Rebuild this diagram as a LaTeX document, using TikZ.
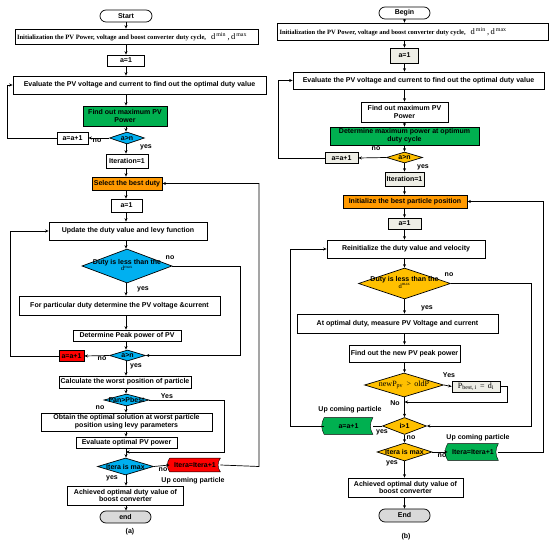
\documentclass[tikz,border=0pt]{standalone}
\usepackage{fontspec}
\setmainfont{Liberation Serif}
\setsansfont{Liberation Sans}
\usetikzlibrary{shapes.geometric,arrows.meta,backgrounds}
\definecolor{cblue}{RGB}{0,176,240}
\definecolor{cgreen}{RGB}{0,176,80}
\definecolor{corange}{RGB}{255,153,0}
\definecolor{cred}{RGB}{255,0,0}
\definecolor{cgold}{RGB}{255,192,0}
\definecolor{clight}{RGB}{238,238,230}
\definecolor{cgray}{RGB}{217,217,217}
\newcommand{\fnt}{\sffamily\bfseries\fontsize{7}{7.8}\selectfont}
\newcommand{\inittxt}[2]{\makebox[#2][l]{\rmfamily\bfseries\fontsize{#1}{7}\selectfont Initialization the PV Power, voltage and boost converter duty cycle,\hspace{5pt}{\mdseries\fontsize{8.5}{9}\selectfont d\textsuperscript{\,min}\,,\,d\textsuperscript{\,max}}}}
\begin{document}
\begin{tikzpicture}[x=1pt,y=-1pt,line width=0.7pt,
  base/.style={font=\fnt,inner sep=0pt,align=center},
  box/.style={base,draw,rectangle,fill=white},
  lbox/.style={box,fill=clight},
  term/.style={box,rounded corners=6pt},
  dia/.style={draw,diamond,inner sep=0pt},
  arr/.style={-{Stealth[length=3.5pt,width=3pt]}},
  lbl/.style={base}]
\useasboundingbox (0,0) rectangle (550,545);
\coordinate (colA) at (126,0);
\coordinate (colB) at (404.5,0);
% ================= (a) =================
\node[term,minimum width=52pt,minimum height=12pt] (start) at (126,16) {Start};
\node[box,minimum width=243pt,minimum height=15pt] (init) at (136.5,36.5) {\inittxt{6.6}{239pt}};
\node[box,minimum width=37pt,minimum height=11pt] (a1) at (126,60.5) {a=1};
\node[box,minimum width=253pt,minimum height=18pt] (eval) at (139.5,85) {Evaluate the PV voltage and current to find out the optimal duty value};
\node[box,fill=cgreen,minimum width=84pt,minimum height=20pt] (green) at (125,116) {Find out maximum PV\\Power};
\node[dia,fill=cblue,minimum width=35pt,minimum height=12pt,label={[base]center:a>n}] (an1) at (127,138) {};
\node[box,minimum width=31pt,minimum height=12pt] (aa1) at (72.5,138) {a=a+1};
\node[box,minimum width=42pt,minimum height=14pt] (iter1) at (127,161) {Iteration=1};
\node[box,fill=corange,minimum width=70pt,minimum height=13pt] (select) at (127,183.5) {Select the best duty};
\node[box,minimum width=31pt,minimum height=13pt] (a1b) at (126.5,205.5) {a=1};
\node[box,minimum width=158pt,minimum height=18pt] (update) at (128,231) {Update the duty value and levy function};
\node[dia,fill=cblue,minimum width=90pt,minimum height=34pt,label={[base,yshift=1pt]center:{Duty is less than the\\[-1pt]{\rmfamily\mdseries\fontsize{6.5}{7}\selectfont d\textsuperscript{max}}}}] (duty) at (127,266) {};
\node[box,minimum width=201pt,minimum height=19pt] (forpart) at (119.5,305.5) {For particular duty determine the PV voltage \&current};
\node[box,minimum width=108pt,minimum height=11pt] (peak) at (127,335.5) {Determine Peak power of PV};
\node[dia,fill=cblue,minimum width=36pt,minimum height=11pt,label={[base]center:a>n}] (an2) at (127.5,355.5) {};
\node[box,fill=cred,minimum width=25pt,minimum height=11pt] (aa2) at (71.5,356) {a=a+1};
\node[box,minimum width=132pt,minimum height=12pt] (calc) at (125,382) {Calculate the worst position of particle};
\node[dia,fill=cblue,minimum width=45pt,minimum height=12pt,label={[base]center:Pan>Pbest}] (pan) at (126.5,400) {};
\node[box,minimum width=171pt,minimum height=18pt] (obtain) at (126.5,422) {Obtain the optimal solution at worst particle\\position using levy parameters};
\node[box,minimum width=101pt,minimum height=11pt] (evalopt) at (126.5,442.5) {Evaluate optimal PV power};
\node[dia,fill=cblue,minimum width=56pt,minimum height=17pt,label={[base]center:Itera is max}] (itmax) at (125.5,466.5) {};
\node[base,minimum width=50pt,minimum height=13pt] (itinc) at (195,465) {Itera=Itera+1};
\begin{scope}[on background layer]
\draw[fill=cred] (itinc.north west) to[bend right=35] (itinc.south west) -- (itinc.south east) to[bend left=35] (itinc.north east) -- cycle;
\end{scope}
\node[box,minimum width=116pt,minimum height=19pt] (ach) at (125.5,495.5) {Achieved optimal duty value of\\boost converter};
\node[term,fill=cgray,minimum width=51pt,minimum height=12pt] (end) at (125.5,517) {end};
\node[lbl] (capa) at (130,532) {(a)};
% labels (a)
\node[lbl] (l1) at (97,141) {no};
\node[lbl] (l2) at (146,147) {yes};
\node[lbl] (l3) at (170,258) {no};
\node[lbl] (l4) at (143,289) {yes};
\node[lbl] (l5) at (102,359) {no};
\node[lbl] (l6) at (136,366) {yes};
\node[lbl] (l7) at (167,396) {Yes};
\node[lbl] (l8) at (100,408) {no};
\node[lbl] (l9) at (163,470) {no};
\node[lbl] (l10) at (112,478) {yes};
\node[lbl] (l11) at (193,481) {Up coming particle};
% connectors (a)
\coordinate (La) at (7,138);
\coordinate (Lb) at (10,356);
\coordinate (Ra) at (240,266);
\coordinate (Rb) at (224,400);
\coordinate (Rc) at (259,466.5);
\coordinate (Ja) at (126,452);
\draw[arr] (start.south -| colA) -- (init.north -| colA);
\draw[arr] (init.south -| colA) -- (a1.north -| colA);
\draw[arr] (a1.south -| colA) -- (eval.north -| colA);
\draw[arr] (eval.south -| colA) -- (green.north -| colA);
\draw[arr] (green.south -| colA) -- (an1.north -| colA);
\draw[arr] (an1.south -| colA) -- (iter1.north -| colA);
\draw[arr] (an1.west) -- (aa1.east);
\draw[arr] (aa1.west) -- (La) |- (eval.west);
\draw[arr] (iter1.south -| colA) -- (select.north -| colA);
\draw[arr] (select.south -| colA) -- (a1b.north -| colA);
\draw[arr] (a1b.south -| colA) -- (update.north -| colA);
\draw[arr] (update.south -| colA) -- (duty.north -| colA);
\draw[arr] (duty.south -| colA) -- (forpart.north -| colA);
\draw[arr] (duty.east) -- (Ra) |- (an2.east);
\draw[arr] (forpart.south -| colA) -- (peak.north -| colA);
\draw[arr] (peak.south -| colA) -- (an2.north -| colA);
\draw[arr] (an2.west) -- (aa2.east);
\draw[arr] (aa2.west) -- (Lb) |- (update.west);
\draw[arr] (an2.south -| colA) -- (calc.north -| colA);
\draw[arr] (calc.south -| colA) -- (pan.north -| colA);
\draw[arr] (pan.south -| colA) -- (obtain.north -| colA);
\draw[arr] (pan.east) -- (Rb) |- (Ja);
\draw[arr] (obtain.south -| colA) -- (evalopt.north -| colA);
\draw[arr] (evalopt.south -| colA) -- (itmax.north -| colA);
\draw[arr] (itmax.east) -- (itinc.west);
\draw[arr] (itinc.east) -- (Rc) |- (select.east);
\draw[arr] (itmax.south -| colA) -- (ach.north -| colA);
\draw[arr] (ach.south -| colA) -- (end.north -| colA);
% ================= (b) =================
\node[term,minimum width=51pt,minimum height=12pt] (begin) at (404.5,13) {Begin};
\node[box,minimum width=271pt,minimum height=17pt] (init2) at (413,31.5) {\inittxt{6.5}{267pt}};
\node[lbox,minimum width=28pt,minimum height=15pt] (b1) at (404.5,55.5) {a=1};
\node[box,minimum width=251pt,minimum height=17pt] (eval2) at (418.5,80.5) {Evaluate the PV voltage and current to find out the optimal duty value};
\node[box,minimum width=87pt,minimum height=20pt] (fmax) at (404.5,112) {Find out maximum PV\\Power};
\node[box,fill=cgreen,minimum width=149pt,minimum height=18pt] (dmax) at (404.5,136) {Determine maximum power at optimum\\duty cycle};
\node[dia,fill=cgold,minimum width=36pt,minimum height=11pt,label={[base]center:a>n}] (an3) at (404.5,157.5) {};
\node[lbox,minimum width=33pt,minimum height=11pt] (aa3) at (341.5,158) {a=a+1};
\node[lbox,minimum width=39pt,minimum height=14pt] (iter2) at (404.5,179) {Iteration=1};
\node[box,fill=corange,minimum width=124pt,minimum height=13pt] (ibest) at (405,201.5) {Initialize the best particle position};
\node[lbox,minimum width=33pt,minimum height=11pt] (b2) at (404.5,223.5) {a=1};
\node[box,minimum width=158pt,minimum height=18pt] (reinit) at (406,249) {Reinitialize the duty value and velocity};
\node[dia,fill=cgold,minimum width=92pt,minimum height=31pt,label={[base,yshift=1pt]center:{Duty is less than the\\[-1pt]{\rmfamily\mdseries\fontsize{6.5}{7}\selectfont d\textsuperscript{max}}}}] (duty2) at (404.5,283.5) {};
\node[box,minimum width=201pt,minimum height=19pt] (atopt) at (397.5,323.5) {At optimal duty, measure PV Voltage and current};
\node[box,minimum width=111pt,minimum height=17pt] (npeak) at (404.5,353.5) {Find out the new PV peak power};
\node[dia,fill=cgold,minimum width=79pt,minimum height=24pt,label={[base]center:{\rmfamily\mdseries\fontsize{8}{9}\selectfont newP\textsubscript{pv} \,>\, oldP}}] (newp) at (404,385) {};
\node[lbox,minimum width=48pt,minimum height=11pt] (pbest) at (476,386.5) {\rmfamily\mdseries\fontsize{8}{9}\selectfont P\textsubscript{best,\,i} \,=\, d\textsubscript{i}};
\node[dia,fill=cgold,minimum width=44pt,minimum height=17pt,label={[base]center:i>1}] (i1) at (404.5,426) {};
\node[base,minimum width=48pt,minimum height=16pt] (aa4) at (348.5,426) {a=a+1};
\node[dia,fill=cgold,minimum width=55pt,minimum height=18pt,label={[base]center:Itera is max}] (itmax2) at (404.5,452) {};
\node[base,minimum width=50pt,minimum height=16pt] (itinc2) at (473,452) {Itera=Itera+1};
\begin{scope}[on background layer]
\draw[fill=cgreen] (aa4.north west) to[bend right=30] (aa4.south west) -- (aa4.south east) to[bend left=30] (aa4.north east) -- cycle;
\draw[fill=cgreen] (itinc2.north west) to[bend right=30] (itinc2.south west) -- (itinc2.south east) to[bend left=30] (itinc2.north east) -- cycle;
\end{scope}
\node[box,minimum width=115pt,minimum height=19pt] (ach2) at (405.5,487.5) {Achieved optimal duty value of\\boost converter};
\node[term,fill=cgray,minimum width=51pt,minimum height=13pt] (endb) at (404.5,515.5) {End};
\node[lbl] (capb) at (406,537) {(b)};
% labels (b)
\node[lbl] (m1) at (376,149) {no};
\node[lbl] (m2) at (423,167) {yes};
\node[lbl] (m3) at (449,275) {no};
\node[lbl] (m4) at (427,308) {yes};
\node[lbl] (m5) at (449,375) {Yes};
\node[lbl] (m6) at (395,403) {No};
\node[lbl] (m7) at (350,410) {Up coming particle};
\node[lbl] (m8) at (382,432) {yes};
\node[lbl] (m9) at (411,438) {no};
\node[lbl] (m10) at (478,438) {Up coming particle};
\node[lbl] (m11) at (442,456) {no};
\node[lbl] (m12) at (392,463) {yes};
% connectors (b)
\coordinate (Lc) at (278.5,158);
\coordinate (Ld) at (290,426);
\coordinate (Rd) at (531,283.5);
\coordinate (Re) at (507,386.5);
\coordinate (Rf) at (543,452);
\coordinate (Jb) at (404.5,402);
\draw[arr] (begin.south -| colB) -- (init2.north -| colB);
\draw[arr] (init2.south -| colB) -- (b1.north -| colB);
\draw[arr] (b1.south -| colB) -- (eval2.north -| colB);
\draw[arr] (eval2.south -| colB) -- (fmax.north -| colB);
\draw[arr] (fmax.south -| colB) -- (dmax.north -| colB);
\draw[arr] (dmax.south -| colB) -- (an3.north -| colB);
\draw[arr] (an3.west) -- (aa3.east);
\draw[arr] (aa3.west) -- (Lc) |- (eval2.west);
\draw[arr] (an3.south -| colB) -- (iter2.north -| colB);
\draw[arr] (iter2.south -| colB) -- (ibest.north -| colB);
\draw[arr] (ibest.south -| colB) -- (b2.north -| colB);
\draw[arr] (b2.south -| colB) -- (reinit.north -| colB);
\draw[arr] (reinit.south -| colB) -- (duty2.north -| colB);
\draw[arr] (duty2.south -| colB) -- (atopt.north -| colB);
\draw[arr] (duty2.east) -- (Rd) |- (i1.east);
\draw[arr] (atopt.south -| colB) -- (npeak.north -| colB);
\draw[arr] (npeak.south -| colB) -- (newp.north -| colB);
\draw[arr] (newp.east) -- (pbest.west);
\draw[arr] (pbest.east) -- (Re) |- (Jb);
\draw[arr] (newp.south -| colB) -- (i1.north -| colB);
\draw (i1.west) -- (aa4.east);
\draw[arr] (aa4.west) -- (Ld) |- (reinit.west);
\draw[arr] (i1.south -| colB) -- (itmax2.north -| colB);
\draw[arr] (itmax2.east) -- (itinc2.west);
\draw[arr] (itinc2.east) -- (Rf) |- (ibest.east);
\draw[arr] (itmax2.south -| colB) -- (ach2.north -| colB);
\draw[arr] (ach2.south -| colB) -- (endb.north -| colB);
\end{tikzpicture}
\end{document}
